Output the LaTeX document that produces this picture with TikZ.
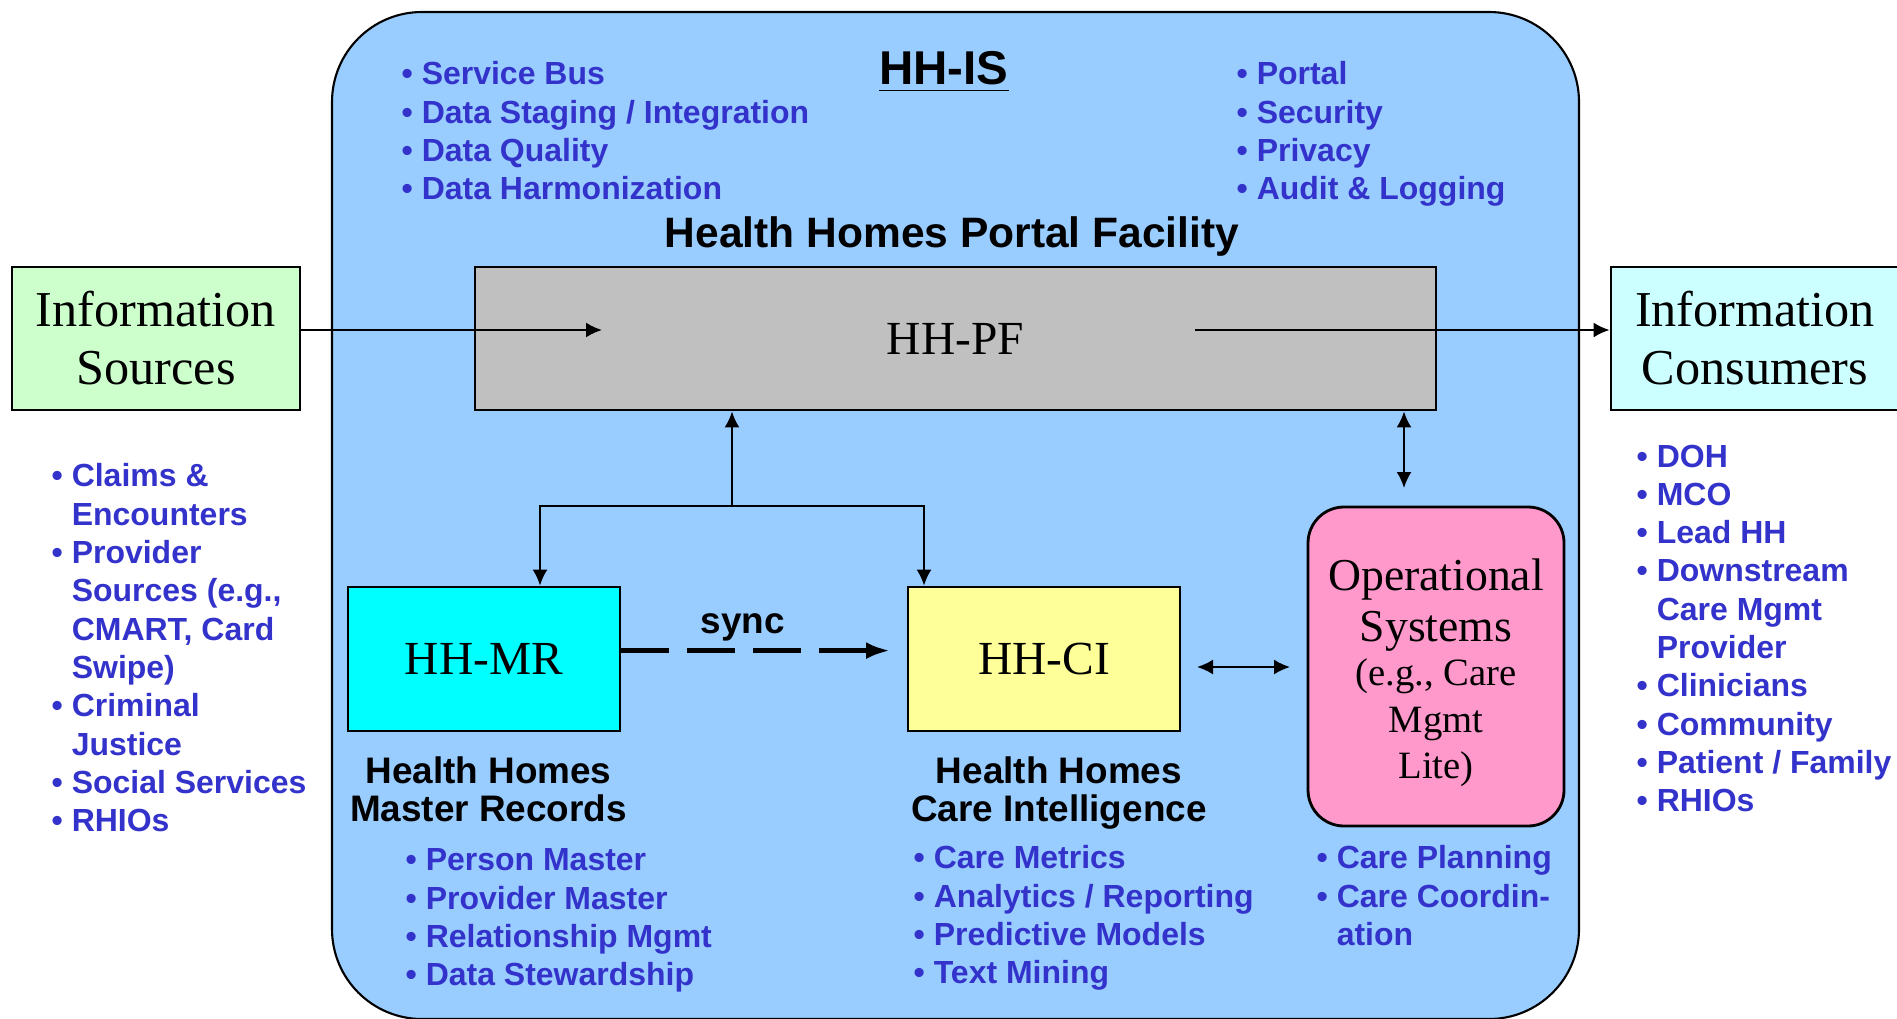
\documentclass[tikz,border=0pt]{standalone}
\usepackage{fontspec}
\setmainfont{Liberation Serif}
\setsansfont{Liberation Sans}
\usepackage{tikz}
\usetikzlibrary{arrows, arrows.meta}
\tikzset{>={Latex[length=1.6mm,width=1.5mm]}}

\definecolor{hhblue}{HTML}{3333CC}
\definecolor{isfill}{HTML}{99CCFF}
\definecolor{srcfill}{HTML}{CCFFCC}
\definecolor{consfill}{HTML}{CCFFFF}
\definecolor{pffill}{HTML}{C0C0C0}
\definecolor{mrfill}{HTML}{00FFFF}
\definecolor{cifill}{HTML}{FFFF99}
\definecolor{opsfill}{HTML}{FF99CC}

\newcommand{\bitem}[1]{\textbullet\ #1}
\newcommand{\bcont}[1]{\hphantom{\textbullet\ }#1}

\tikzset{
  box/.style={draw, line width=.8pt, inner sep=0pt, align=center, font=\fontsize{14.3}{16.5}\selectfont},
  bluelist/.style={anchor=north west, inner sep=0pt, align=left, text=hhblue, font=\sffamily\bfseries\fontsize{9.1}{10.9}\selectfont},
  head/.style={inner sep=0pt, align=center, font=\sffamily\bfseries\fontsize{10.5}{10.8}\selectfont},
  link/.style={->, line width=.6pt},
  syncline/.style={-{Latex[length=2.4mm,width=1.7mm]}, line width=1.4pt, dash pattern=on .48cm off .18cm}
}

\begin{document}
\begin{tikzpicture}
\useasboundingbox (0,0) rectangle (18.97,10.18);
\draw [fill=isfill, line width=.6pt, rounded corners=.9cm](3.32,-0.01) rectangle (15.79,10.06);
\node (hhis) at (9.44,9.33)[anchor=base, inner sep=0pt, font=\sffamily\bfseries\fontsize{13.5}{16}\selectfont]{\underline{HH-IS}};
\node (svc) at (4.01,9.57)[bluelist]{\bitem{Service Bus}\\\bitem{Data Staging / Integration}\\\bitem{Data Quality}\\\bitem{Data Harmonization}};
\node (sec) at (12.36,9.57)[bluelist]{\bitem{Portal}\\\bitem{Security}\\\bitem{Privacy}\\\bitem{Audit \& Logging}};
\node (pftitle) at (9.52,7.81)[head, font=\sffamily\bfseries\fontsize{12.1}{14}\selectfont]{Health Homes Portal Facility};

\node (src) at (1.56,6.795)[box, fill=srcfill, minimum width=2.88cm, minimum height=1.43cm]{Information\\Sources};
\node (cons) at (17.55,6.795)[box, fill=consfill, minimum width=2.88cm, minimum height=1.43cm]{Information\\Consumers};
\node (pf) at (9.555,6.795)[box, fill=pffill, minimum width=9.61cm, minimum height=1.43cm, font=\fontsize{13.5}{16}\selectfont]{HH-PF};
\node (mr) at (4.84,3.59)[box, fill=mrfill, minimum width=2.72cm, minimum height=1.44cm, font=\fontsize{13.5}{16}\selectfont]{HH-MR};
\node (ci) at (10.44,3.59)[box, fill=cifill, minimum width=2.72cm, minimum height=1.44cm, font=\fontsize{13.5}{16}\selectfont]{HH-CI};
\node (ops) at (14.36,3.515)[box, fill=opsfill, rounded corners=.36cm, minimum width=2.56cm, minimum height=3.19cm]{};
\node (opsname) at (14.36,4.13)[align=center, font=\fontsize{13}{14.5}\selectfont]{Operational\\Systems};
\node (opsnote) at (14.36,2.95)[align=center, font=\fontsize{11}{13.2}\selectfont]{(e.g., Care\\Mgmt\\Lite)};

\node (srclist) at (0.51,5.55)[bluelist]{\bitem{Claims \&}\\\bcont{Encounters}\\\bitem{Provider}\\\bcont{Sources (e.g.,}\\\bcont{CMART, Card}\\\bcont{Swipe)}\\\bitem{Criminal}\\\bcont{Justice}\\\bitem{Social Services}\\\bitem{RHIOs}};
\node (conslist) at (16.36,5.74)[bluelist]{\bitem{DOH}\\\bitem{MCO}\\\bitem{Lead HH}\\\bitem{Downstream}\\\bcont{Care Mgmt}\\\bcont{Provider}\\\bitem{Clinicians}\\\bitem{Community}\\\bitem{Patient / Family}\\\bitem{RHIOs}};

\node (mrhead) at (4.885,2.29)[head]{Health Homes\\Master Records};
\node (cihead) at (10.59,2.245)[head]{Health Homes\\Care Intelligence};
\node (mrlist) at (4.05,1.70)[bluelist]{\bitem{Person Master}\\\bitem{Provider Master}\\\bitem{Relationship Mgmt}\\\bitem{Data Stewardship}};
\node (cilist) at (9.13,1.73)[bluelist]{\bitem{Care Metrics}\\\bitem{Analytics / Reporting}\\\bitem{Predictive Models}\\\bitem{Text Mining}};
\node (opslist) at (13.16,1.73)[bluelist]{\bitem{Care Planning}\\\bitem{Care Coordin-}\\\bcont{ation}};

\coordinate (pfin) at (6.02,6.88);
\coordinate (pfout) at (11.95,6.88);
\draw [link](src.east |- pfin)--(pfin);
\draw [link](pfout)--(cons.west |- pfout);
\coordinate (split) at (7.32,5.12);
\draw [link](split)--(split |- pf.south);
\draw [link](split)-|([xshift=.56cm]mr.north);
\draw [link](split)-|([xshift=-1.2cm]ci.north);
\coordinate (syncend) at (8.90,3.674);
\draw [syncline](mr.east |- syncend)--(syncend);
\node (sync) at (7.43,3.91)[head]{sync};
\coordinate (ciout) at (11.97,3.51);
\coordinate (opsin) at (12.90,3.51);
\draw [link, <->](ciout)--(opsin);
\coordinate (opstop) at (14.04,5.30);
\draw [link, <->](pf.south -| opstop)--(opstop);
\end{tikzpicture}
\end{document}
